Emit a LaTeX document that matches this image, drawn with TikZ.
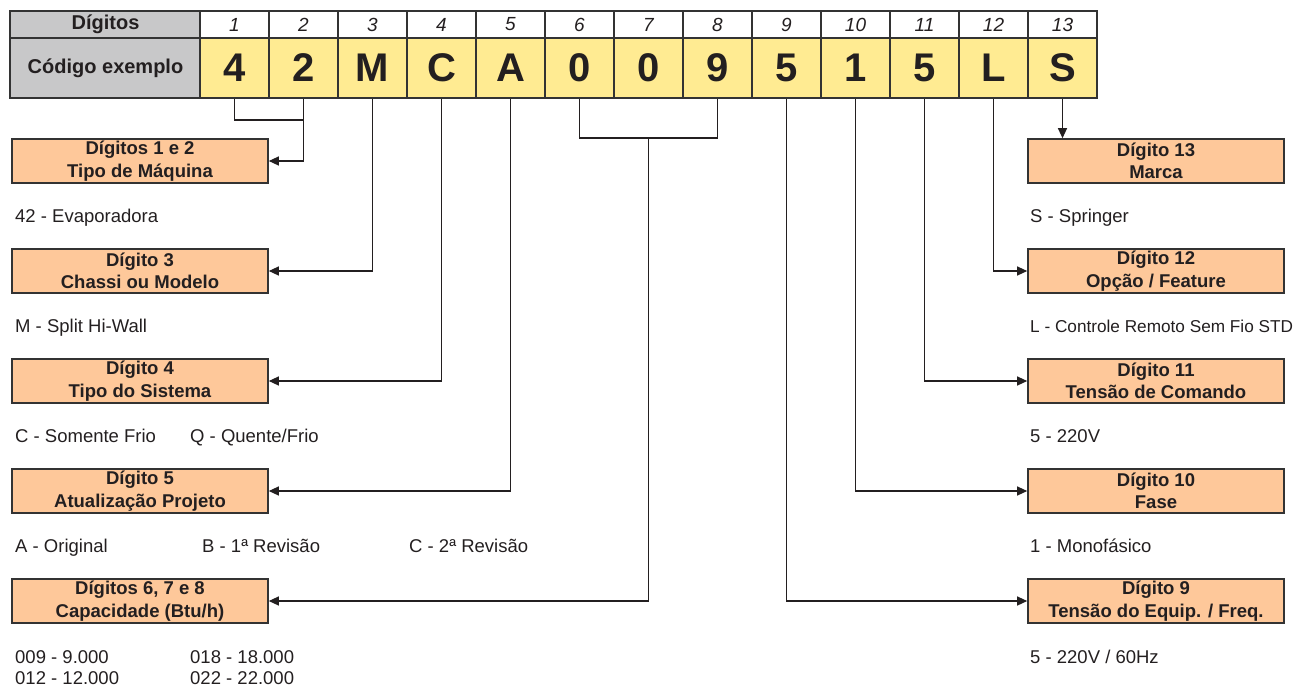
\documentclass[tikz,border=0pt]{standalone}
\usepackage{fontspec}
\setmainfont{Liberation Sans}
\usetikzlibrary{arrows.meta}
\definecolor{cellgray}{HTML}{C8C8C9}
\definecolor{cellyellow}{HTML}{FFEB92}
\definecolor{boxorange}{HTML}{FEC89A}
\definecolor{ink}{HTML}{231F20}
\definecolor{edge}{HTML}{333333}
\begin{document}
\begin{tikzpicture}[x=1pt,y=-1pt,
  every node/.style={text=ink},
  hcell/.style={draw=edge, line width=1.6pt, minimum width=69pt, minimum height=27pt, inner sep=0pt, fill=white, font=\fontsize{19}{19}\selectfont\itshape},
  ccell/.style={draw=edge, line width=1.6pt, minimum width=69pt, minimum height=60pt, inner sep=0pt, fill=cellyellow, font=\fontsize{40}{40}\selectfont\bfseries},
  graycell/.style={fill=cellgray, minimum width=191pt, font=\fontsize{20}{20}\selectfont\bfseries},
  dbox/.style={draw=edge, line width=1.6pt, fill=boxorange, minimum width=256pt, minimum height=44pt, inner sep=0pt, align=center, font=\fontsize{18.5}{22.5}\selectfont\bfseries},
  desc/.style={anchor=base west, inner sep=0pt, font=\fontsize{18.5}{21}\selectfont},
  conn/.style={draw=ink, line width=1.2pt},
  arr/.style={conn, -{Triangle[length=10pt,width=9pt]}}
]
\useasboundingbox (0,0) rectangle (1299,689);
% table
\node[hcell, graycell] (h0) at (105.5,24.5) {Dígitos};
\node[ccell, graycell] (c0) at (105.5,68) {Código exemplo};
\foreach \i in {1,...,13} {
  \node[hcell] (h\i) at ({200+69*\i-34.5},24.5) {\i};
}
\foreach \i/\ch in {1/4,2/2,3/M,4/C,5/A,6/0,7/0,8/9,9/5,10/1,11/5,12/L,13/S} {
  \node[ccell] (c\i) at ({200+69*\i-34.5},68) {\ch};
}
% left boxes
\node[dbox] (b1) at (140,161) {Dígitos 1 e 2\\Tipo de Máquina};
\node[dbox] (b3) at (140,271) {Dígito 3\\Chassi ou Modelo};
\node[dbox] (b4) at (140,381) {Dígito 4\\Tipo do Sistema};
\node[dbox] (b5) at (140,491) {Dígito 5\\Atualização Projeto};
\node[dbox] (b6) at (140,601) {Dígitos 6, 7 e 8\\Capacidade (Btu/h)};
% right boxes
\node[dbox] (r13) at (1156,161) {Dígito 13\\Marca};
\node[dbox] (r12) at (1156,271) {Dígito 12\\Opção / Feature};
\node[dbox] (r11) at (1156,381) {Dígito 11\\Tensão de Comando};
\node[dbox] (r10) at (1156,491) {Dígito 10\\Fase};
\node[dbox] (r9) at (1156,601) {Dígito 9\\Tensão do Equip. / Freq.};
% left descriptions
\node[desc] (t1) at (15,222.5) {42 - Evaporadora};
\node[desc] (t3) at (15,332.5) {M - Split Hi-Wall};
\node[desc] (t4a) at (15,442.5) {C - Somente Frio};
\node[desc] (t4b) at (190,442.5) {Q - Quente/Frio};
\node[desc] (t5a) at (15,552.5) {A - Original};
\node[desc] (t5b) at (202,552.5) {B - 1ª Revisão};
\node[desc] (t5c) at (409,552.5) {C - 2ª Revisão};
\node[desc] (t6a) at (15,663) {009 - 9.000};
\node[desc] (t6b) at (15,684) {012 - 12.000};
\node[desc] (t6c) at (190,663) {018 - 18.000};
\node[desc] (t6d) at (190,684) {022 - 22.000};
% right descriptions
\node[desc] (s13) at (1030,222.5) {S - Springer};
\node[desc, font=\fontsize{17.2}{21}\selectfont] (s12) at (1030,332.5) {L - Controle Remoto Sem Fio STD};
\node[desc] (s11) at (1030,442.5) {5 - 220V};
\node[desc] (s10) at (1030,552.5) {1 - Monofásico};
\node[desc] (s9) at (1030,663) {5 - 220V / 60Hz};
% connectors
\coordinate (j12) at (c2.south |- 0,120);
\draw[conn] (c1.south) |- (j12);
\draw[arr] (c2.south) |- (b1.east);
\draw[arr] (c3.south) |- (b3.east);
\draw[arr] (c4.south) |- (b4.east);
\draw[arr] (c5.south) |- (b5.east);
\coordinate (j68) at (c8.south |- 0,138);
\coordinate (j7) at (c7.south |- 0,138);
\draw[conn] (c6.south) |- (j68);
\draw[conn] (c8.south) -- (j68);
\draw[arr] (j7) |- (b6.east);
\draw[arr] (c9.south) |- (r9.west);
\draw[arr] (c10.south) |- (r10.west);
\draw[arr] (c11.south) |- (r11.west);
\draw[arr] (c12.south) |- (r12.west);
\draw[arr] (c13.south) -- (c13.south |- r13.north);
\end{tikzpicture}
\end{document}
